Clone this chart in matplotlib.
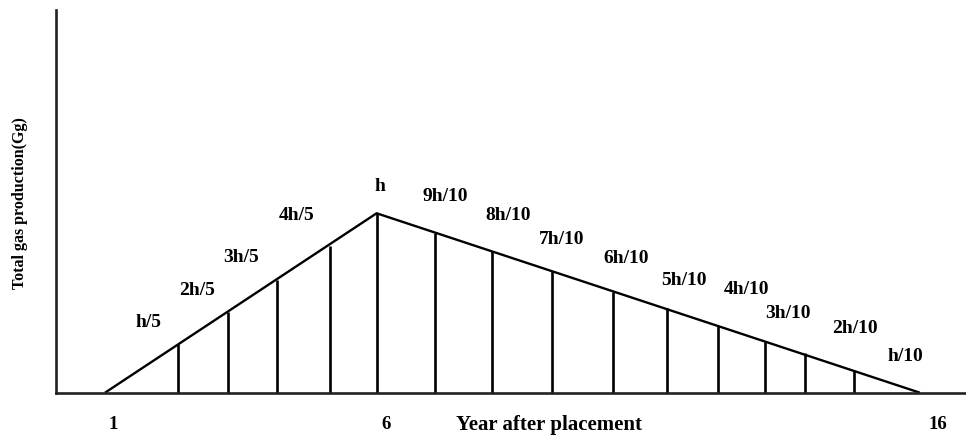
"""
Gas production triangle: rise to peak h in year 6, decline to zero at year 16
"""

import numpy as np
import matplotlib.pyplot as plt

plt.rcParams['font.family'] = ['Liberation Serif', 'DejaVu Serif']
plt.rcParams['font.weight'] = 'bold'

# triangle outline (year, fraction of h)
tri_years = [1, 6, 16]
tri_heights = [0, 1, 0]

# vertical dividers (year, fraction of h)
div_years = [2.35, 3.26, 4.17, 5.14, 6.0, 7.07, 8.12, 9.22, 10.36,
             11.35, 12.29, 13.15, 13.88, 14.79]
div_heights = [0.27, 0.45, 0.63, 0.82, 1.0, 0.89, 0.79, 0.68, 0.56,
               0.47, 0.37, 0.28, 0.22, 0.12]

# annotation labels
labels = ['h/5', '2h/5', '3h/5', '4h/5', 'h', '9h/10', '8h/10', '7h/10',
          '6h/10', '5h/10', '4h/10', '3h/10', '2h/10', 'h/10']
label_x = [1.81, 2.70, 3.50, 4.53, 6.06, 7.26, 8.42, 9.41, 10.59,
           11.66, 12.81, 13.57, 14.80, 15.74]
label_y = [0.39, 0.569, 0.751, 0.985, 1.148, 1.096, 0.990, 0.855, 0.749,
           0.624, 0.576, 0.443, 0.359, 0.201]

tick_years = [1, 6, 16]
tick_x = [1.15, 6.17, 16.33]

fig = plt.figure(figsize=(9.66, 4.37), dpi=100)
# axes placed in pixel terms: left 56, bottom 44, top 10, right edge
ax = fig.add_axes([56 / 966, 44.3 / 437, 1 - 56 / 966, (437 - 44.3 - 10) / 437])
ax.set_xlim(0.098, 16.85)
ax.set_ylim(0, 2.133)

ax.plot(tri_years, tri_heights, color='black', lw=1.7, solid_capstyle='butt')
ax.vlines(div_years, 0, div_heights, color='black', lw=1.9)

for txt, x, y in zip(labels, label_x, label_y):
    ax.text(x, y, txt, ha='center', va='center', fontsize=14, fontweight='bold')

for s in ['top', 'right']:
    ax.spines[s].set_visible(False)
for s in ['left', 'bottom']:
    ax.spines[s].set_linewidth(1.9)
    ax.spines[s].set_color('#222222')
ax.set_xticks([])
ax.set_yticks([])

# tick numbers and axis titles sit below the axis line
for yr, x in zip(tick_years, tick_x):
    ax.text(x, -0.18, str(yr), ha='center', va='center', fontsize=13.5,
            fontweight='bold')
ax.text(9.17, -0.18, 'Year after placement', ha='center', va='center',
        fontsize=15, fontweight='bold')
fig.text(20 / 966, 1 - 203 / 437, 'Total gas production(Gg)', rotation=90,
         ha='center', va='center', fontsize=11.5, fontweight='bold')

fig.savefig('out.png', dpi=100)
